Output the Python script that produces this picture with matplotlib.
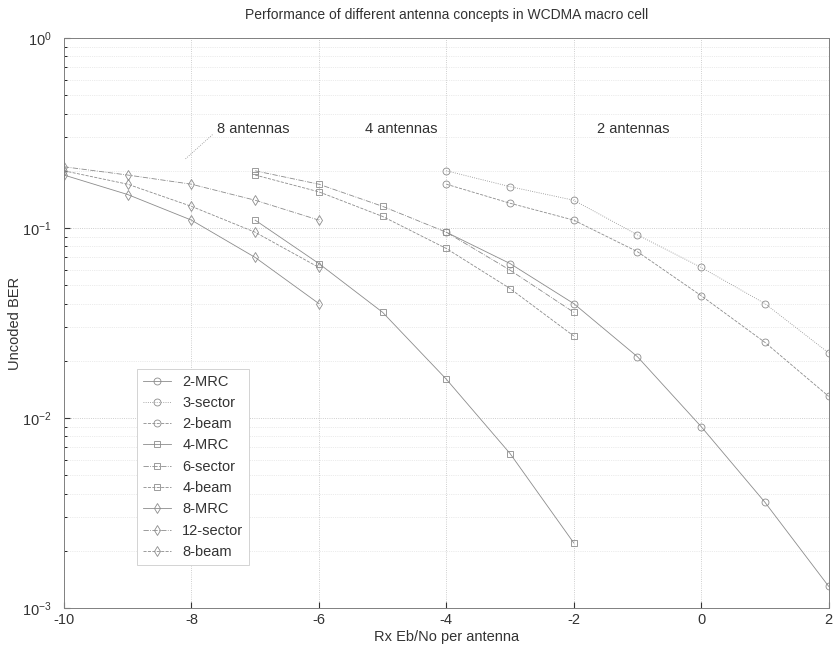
import numpy as np
import matplotlib
matplotlib.use("Agg")
import matplotlib.pyplot as plt
from matplotlib.ticker import FixedLocator, FixedFormatter, LogLocator, NullFormatter

plt.rcParams['font.family'] = ['Liberation Sans', 'DejaVu Sans']
plt.rcParams['mathtext.default'] = 'regular'
plt.rcParams['axes.unicode_minus'] = False

# Eb/No per antenna (dB) for each antenna count
x8 = [-10, -9, -8, -7, -6]
x4 = [-7, -6, -5, -4, -3, -2]
x2 = [-4, -3, -2, -1, 0, 1, 2]

# uncoded BER
mrc2 = [0.095, 0.065, 0.04, 0.021, 0.009, 0.0036, 0.0013]
sector3 = [0.20, 0.165, 0.14, 0.092, 0.062, 0.04, 0.022]
beam2 = [0.17, 0.135, 0.11, 0.075, 0.044, 0.025, 0.013]

mrc4 = [0.11, 0.065, 0.036, 0.016, 0.0065, 0.0022]
sector6 = [0.20, 0.17, 0.13, 0.095, 0.06, 0.036]
beam4 = [0.19, 0.155, 0.115, 0.078, 0.048, 0.027]

mrc8 = [0.19, 0.15, 0.11, 0.07, 0.04]
sector12 = [0.21, 0.19, 0.17, 0.14, 0.11]
beam8 = [0.20, 0.17, 0.13, 0.095, 0.062]

curves = [
    ('2-MRC', x2, mrc2, '-', 'o'),
    ('3-sector', x2, sector3, ':', 'o'),
    ('2-beam', x2, beam2, '--', 'o'),
    ('4-MRC', x4, mrc4, '-', 's'),
    ('6-sector', x4, sector6, '-.', 's'),
    ('4-beam', x4, beam4, '--', 's'),
    ('8-MRC', x8, mrc8, '-', 'd'),
    ('12-sector', x8, sector12, '-.', 'd'),
    ('8-beam', x8, beam8, '--', 'd'),
]

fig = plt.figure(figsize=(8.33, 6.62), dpi=100)
ax = fig.add_axes([0.0768, 0.0816, 0.918, 0.861])

for name, xs, ys, ls, mk in curves:
    ax.semilogy(xs, ys, linestyle=ls, marker=mk, color='0.55', lw=0.6,
                markersize=5, markerfacecolor='none', markeredgewidth=0.6,
                label=name)

ax.set_xlim(-10, 2)
ax.set_ylim(1e-3, 1)

ax.xaxis.set_major_locator(FixedLocator([-10, -8, -6, -4, -2, 0, 2]))
ax.yaxis.set_major_locator(FixedLocator([1e-3, 1e-2, 1e-1, 1]))
ax.yaxis.set_major_formatter(FixedFormatter(['$10^{-3}$', '$10^{-2}$', '$10^{-1}$', '$10^{0}$']))
ax.yaxis.set_minor_locator(LogLocator(base=10, subs=np.arange(2, 10)))
ax.yaxis.set_minor_formatter(NullFormatter())

ax.grid(True, which='major', linestyle=':', color='0.75', lw=0.6)
ax.grid(True, which='minor', axis='y', linestyle=':', color='0.85', lw=0.5)
ax.tick_params(direction='in', labelsize=10.5, colors='0.2', length=4)
ax.tick_params(axis='y', pad=9)
ax.tick_params(which='minor', direction='in', length=2)
for s in ax.spines.values():
    s.set_color('0.5')
    s.set_linewidth(0.7)

ax.set_title('Performance of different antenna concepts in WCDMA macro cell',
             fontsize=10, color='0.2', pad=14)
ax.set_xlabel('Rx Eb/No per antenna', fontsize=10.5, color='0.2', labelpad=2)
ax.set_ylabel('Uncoded BER', fontsize=10.5, color='0.2', labelpad=0)

ax.text(-7.6, 0.33, '8 antennas', fontsize=10.5, color='0.2', va='center')
ax.plot([-7.67, -8.1], [0.31, 0.23], color='0.55', lw=0.6, ls=':')
ax.text(-5.28, 0.33, '4 antennas', fontsize=10.5, color='0.2', va='center')
ax.text(-1.63, 0.33, '2 antennas', fontsize=10.5, color='0.2', va='center')

leg = ax.legend(loc='lower left', bbox_to_anchor=(0.086, 0.063), fontsize=10.5,
                handlelength=1.9, labelspacing=0.5, borderpad=0.4,
                fancybox=False, framealpha=1, labelcolor='0.2')
leg.get_frame().set_edgecolor('0.8')
leg.get_frame().set_linewidth(0.6)

fig.savefig('out.png', dpi=100)
